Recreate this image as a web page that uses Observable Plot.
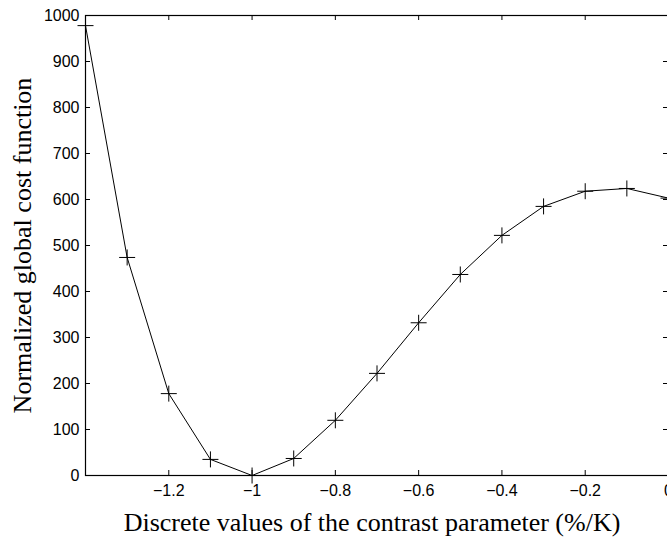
<!DOCTYPE html>
<html>
<head>
<meta charset="utf-8">
<script src="https://cdn.jsdelivr.net/npm/d3@7"></script>
<script src="https://cdn.jsdelivr.net/npm/@observablehq/plot@0.6"></script>
<style>
  html, body { margin: 0; padding: 0; background: #fff; }
  svg { display: block; }
</style>
</head>
<body>
<div id="chart"></div>
<script>
const contrast = [-1.4, -1.3, -1.2, -1.1, -1.0, -0.9, -0.8, -0.7, -0.6, -0.5, -0.4, -0.3, -0.2, -0.1, 0];
const cost = [978, 474, 178, 35, 0, 37, 120, 222, 332, 437, 522, 585, 618, 624, 603];
const xTicks = [-1.4, -1.2, -1.0, -0.8, -0.6, -0.4, -0.2, 0];
const xTickLabels = [-1.2, -1.0, -0.8, -0.6, -0.4, -0.2, 0];
const yTicks = [0, 100, 200, 300, 400, 500, 600, 700, 800, 900, 1000];
const xLabel = "Discrete values of the contrast parameter (%/K)";
const yLabel = "Normalized global cost function";

const data = contrast.map((x, i) => ({x, y: cost[i]}));

const W = 667, H = 537;
const mL = 85, mT = 15, mB = 62, mR = -1;
const frameW = W - mL - mR, frameH = H - mT - mB;
const tick = 5;

const plus = {
  draw(ctx, size) {
    const r = Math.sqrt(size / Math.PI);
    ctx.moveTo(-r, 0); ctx.lineTo(r, 0);
    ctx.moveTo(0, -r); ctx.lineTo(0, r);
  }
};

const fmt = d => (d < 0 ? "\u2212" + String(Math.abs(d)) : String(d));
const serif = "'Liberation Serif', 'Times New Roman', serif";

const chart = Plot.plot({
  width: W,
  height: H,
  marginLeft: mL,
  marginRight: mR,
  marginTop: mT,
  marginBottom: mB,
  style: {fontFamily: "'Liberation Sans', Arial, sans-serif", fontSize: "16px", color: "black", background: "white"},
  x: {domain: [-1.4, 0]},
  y: {domain: [0, 1000]},
  marks: [
    Plot.frame({stroke: "black", strokeWidth: 1.2}),
    Plot.tickX(xTicks, {x: d => d, insetTop: frameH - tick, stroke: "black"}),
    Plot.tickX(xTicks, {x: d => d, insetBottom: frameH - tick, stroke: "black"}),
    Plot.tickY(yTicks, {y: d => d, insetRight: frameW - tick, stroke: "black"}),
    Plot.tickY(yTicks, {y: d => d, insetLeft: frameW - tick, stroke: "black"}),
    Plot.axisX(xTickLabels, {tickSize: 0, tickPadding: 9, tickFormat: fmt, label: null, fontSize: 16}),
    Plot.axisY(yTicks, {tickSize: 0, tickPadding: 6, tickFormat: fmt, label: null, fontSize: 16}),
    Plot.line(data, {x: "x", y: "y", stroke: "black", strokeWidth: 1}),
    Plot.dot(data, {x: "x", y: "y", symbol: plus, r: 8, stroke: "black", strokeWidth: 1, fill: "none"}),
    Plot.text([xLabel], {text: d => d, frameAnchor: "bottom", dy: 55, dx: -5, fontFamily: serif, fontSize: 26, fill: "black"}),
    Plot.text([yLabel], {text: d => d, frameAnchor: "left", textAnchor: "middle", lineAnchor: "middle", rotate: -90, dx: -63, fontFamily: serif, fontSize: 26, fill: "black"})
  ]
});
document.getElementById("chart").appendChild(chart);
</script>
</body>
</html>
